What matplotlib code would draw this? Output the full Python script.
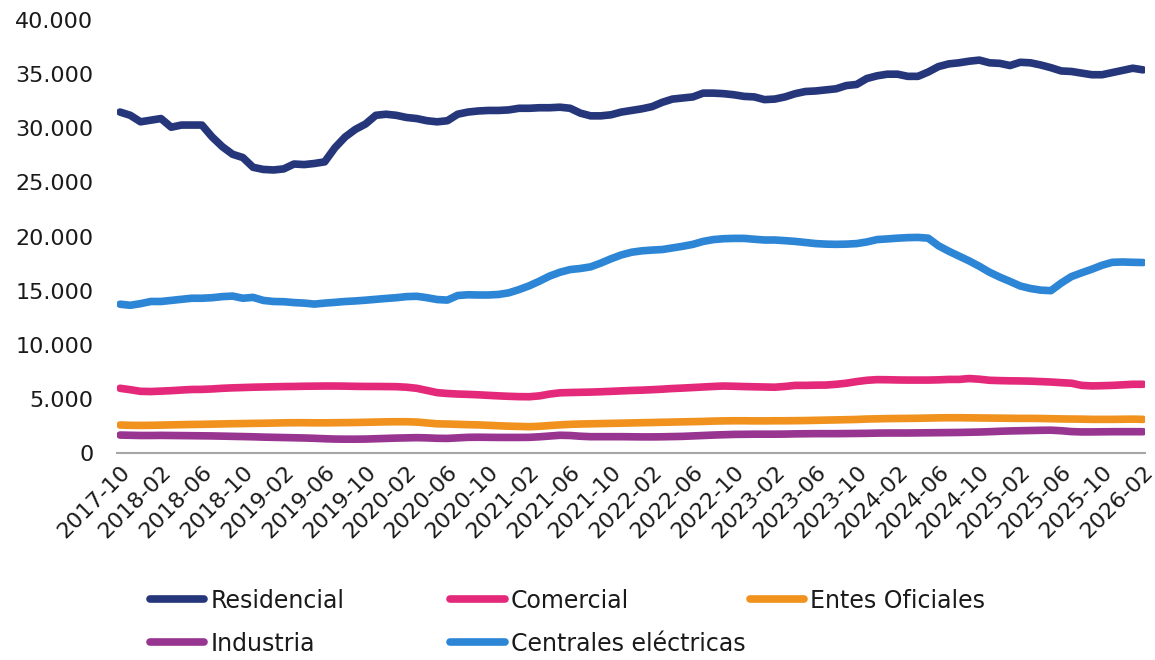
import numpy as np
import pandas as pd
import matplotlib
matplotlib.use("Agg")
import matplotlib.pyplot as plt
from matplotlib.lines import Line2D

# --- Datos (mensuales, 2017-10 a 2026-02) ---
meses = [p.strftime("%Y-%m") for p in pd.period_range("2017-10", "2026-02", freq="M")]

residencial = [
    31500, 31200, 30600, 30750, 30900, 30100, 30300, 30300, 30300, 29200,
    28300, 27600, 27300, 26400, 26200, 26150, 26250, 26700, 26650, 26750,
    26900, 28200, 29200, 29900, 30400, 31200, 31300, 31200, 31000, 30900,
    30700, 30600, 30700, 31300, 31500, 31600, 31650, 31650, 31700, 31850,
    31850, 31900, 31900, 31950, 31850, 31400, 31150, 31150, 31250, 31500,
    31650, 31800, 32000, 32400, 32700, 32800, 32900, 33250, 33250, 33200,
    33100, 32950, 32900, 32650, 32700, 32900, 33200, 33400, 33450, 33550,
    33650, 33950, 34050, 34600, 34850, 35000, 35000, 34800, 34800, 35200,
    35700, 35950, 36050, 36200, 36300, 36050, 36000, 35800, 36100, 36050,
    35850, 35600, 35300, 35250, 35100, 34950, 34950, 35150, 35350, 35550,
    35400,
]

comercial = [
    5980, 5850, 5700, 5680, 5720, 5760, 5820, 5870, 5880, 5920,
    5980, 6020, 6050, 6080, 6100, 6120, 6140, 6150, 6170, 6180,
    6190, 6190, 6180, 6160, 6150, 6150, 6140, 6130, 6080, 5980,
    5780, 5580, 5500, 5450, 5420, 5380, 5330, 5280, 5240, 5210,
    5200, 5280, 5450, 5560, 5590, 5610, 5630, 5660, 5700, 5740,
    5780, 5810, 5850, 5900, 5960, 6000, 6050, 6100, 6150, 6190,
    6170, 6140, 6120, 6100, 6080, 6150, 6250, 6250, 6270, 6280,
    6350, 6450, 6600, 6720, 6780, 6770, 6750, 6740, 6740, 6740,
    6760, 6800, 6800, 6880, 6820, 6720, 6690, 6670, 6660, 6640,
    6600, 6560, 6500, 6450, 6250, 6200, 6220, 6250, 6300, 6350,
    6350,
]

entes_oficiales = [
    2590, 2560, 2550, 2560, 2580, 2600, 2620, 2640, 2650, 2670,
    2690, 2710, 2720, 2740, 2750, 2770, 2790, 2800, 2800, 2790,
    2790, 2800, 2810, 2820, 2840, 2860, 2880, 2890, 2890, 2860,
    2780, 2700, 2680, 2650, 2620, 2600, 2560, 2520, 2480, 2460,
    2430, 2470, 2540, 2600, 2650, 2680, 2700, 2720, 2740, 2760,
    2780, 2800, 2820, 2840, 2860, 2880, 2900, 2920, 2950, 2970,
    2980, 2980, 2970, 2970, 2980, 2980, 2990, 3000, 3020, 3040,
    3060, 3080, 3100, 3140, 3160, 3180, 3190, 3200, 3210, 3230,
    3250, 3260, 3260, 3250, 3240, 3230, 3220, 3210, 3200, 3200,
    3190, 3170, 3150, 3140, 3130, 3110, 3110, 3110, 3120, 3130,
    3110,
]

industria = [
    1660, 1640, 1620, 1620, 1630, 1620, 1610, 1600, 1590, 1580,
    1560, 1540, 1520, 1500, 1470, 1450, 1430, 1410, 1390, 1360,
    1320, 1290, 1280, 1280, 1290, 1320, 1350, 1380, 1400, 1420,
    1400, 1360, 1350, 1400, 1450, 1460, 1450, 1440, 1440, 1440,
    1450, 1500, 1570, 1640, 1620, 1550, 1510, 1510, 1510, 1510,
    1500, 1490, 1490, 1500, 1520, 1540, 1580, 1620, 1660, 1690,
    1720, 1730, 1740, 1740, 1740, 1750, 1770, 1780, 1790, 1790,
    1790, 1800, 1810, 1820, 1840, 1850, 1850, 1850, 1860, 1870,
    1880, 1890, 1900, 1920, 1940, 1970, 2010, 2040, 2060, 2080,
    2100, 2110, 2060, 1980, 1950, 1950, 1960, 1970, 1970, 1970,
    1970,
]

centrales = [
    13750, 13650, 13800, 14000, 14000, 14100, 14200, 14300, 14300, 14350,
    14450, 14500, 14300, 14380, 14100, 14000, 13980, 13900, 13850, 13760,
    13850, 13920, 14000, 14050, 14120, 14200, 14280, 14350, 14450, 14480,
    14350, 14180, 14130, 14550, 14620, 14600, 14600, 14650, 14800, 15100,
    15450, 15880, 16350, 16700, 16950, 17050, 17200, 17550, 17950, 18300,
    18550, 18680, 18750, 18800, 18950, 19100, 19280, 19550, 19720, 19800,
    19830, 19830, 19750, 19680, 19680, 19620, 19550, 19450, 19350, 19300,
    19280, 19300, 19350, 19500, 19720, 19780, 19850, 19900, 19920, 19850,
    19150, 18650, 18200, 17750, 17250, 16700, 16250, 15850, 15430, 15200,
    15050, 15000, 15700, 16300, 16650, 16980, 17350, 17620, 17650, 17620,
    17600,
]

series = [
    ("Residencial", residencial, "#25367A"),
    ("Comercial", comercial, "#E4297A"),
    ("Entes Oficiales", entes_oficiales, "#F0921D"),
    ("Industria", industria, "#983591"),
    ("Centrales eléctricas", centrales, "#2D86D5"),
]

plt.rcParams["font.family"] = ["DejaVu Sans"]
FS = 16
FS_LEG = 17
LW = 5.5

fig = plt.figure(figsize=(11.55, 6.6), dpi=100)
ax = fig.add_axes([0.1013, 0.3136, 0.8901, 0.656])

x = np.arange(len(meses))
for nombre, vals, col in series:
    ax.plot(x, vals, color=col, lw=LW, solid_capstyle="round", solid_joinstyle="round")

ax.set_ylim(0, 40000)
ax.set_xlim(-0.3, len(meses) - 0.8)
yt = np.arange(0, 40001, 5000)
ax.set_yticks(yt)
ax.set_yticklabels([f"{v:,.0f}".replace(",", ".") for v in yt], fontsize=FS, color="#1a1a1a")
ax.set_xticks(x[::4])
ax.set_xticklabels(meses[::4], rotation=45, ha="right", rotation_mode="anchor",
                   fontsize=FS, color="#1a1a1a")
ax.tick_params(axis="y", length=0, pad=17)
ax.tick_params(axis="x", length=0, pad=6)

for s in ["top", "right", "left"]:
    ax.spines[s].set_visible(False)
ax.spines["bottom"].set_color("#A6A6A6")
ax.spines["bottom"].set_linewidth(1.5)

# --- Leyenda en 3 columnas colocadas a mano ---
handles = {n: Line2D([], [], color=c, lw=LW, solid_capstyle="round") for n, _, c in series}
columnas = [
    (["Residencial", "Industria"], 0.130),
    (["Comercial", "Centrales eléctricas"], 0.390),
    (["Entes Oficiales"], 0.649),
]
for nombres, xpos in columnas:
    leg = fig.legend([handles[n] for n in nombres], nombres, loc="upper left",
                     bbox_to_anchor=(xpos, 0.108), frameon=False, fontsize=FS_LEG,
                     handlelength=2.3, handletextpad=0.25, borderpad=0,
                     borderaxespad=0, labelspacing=0.8)
    for t in leg.get_texts():
        t.set_color("#1a1a1a")

fig.savefig("out.png", dpi=100)
